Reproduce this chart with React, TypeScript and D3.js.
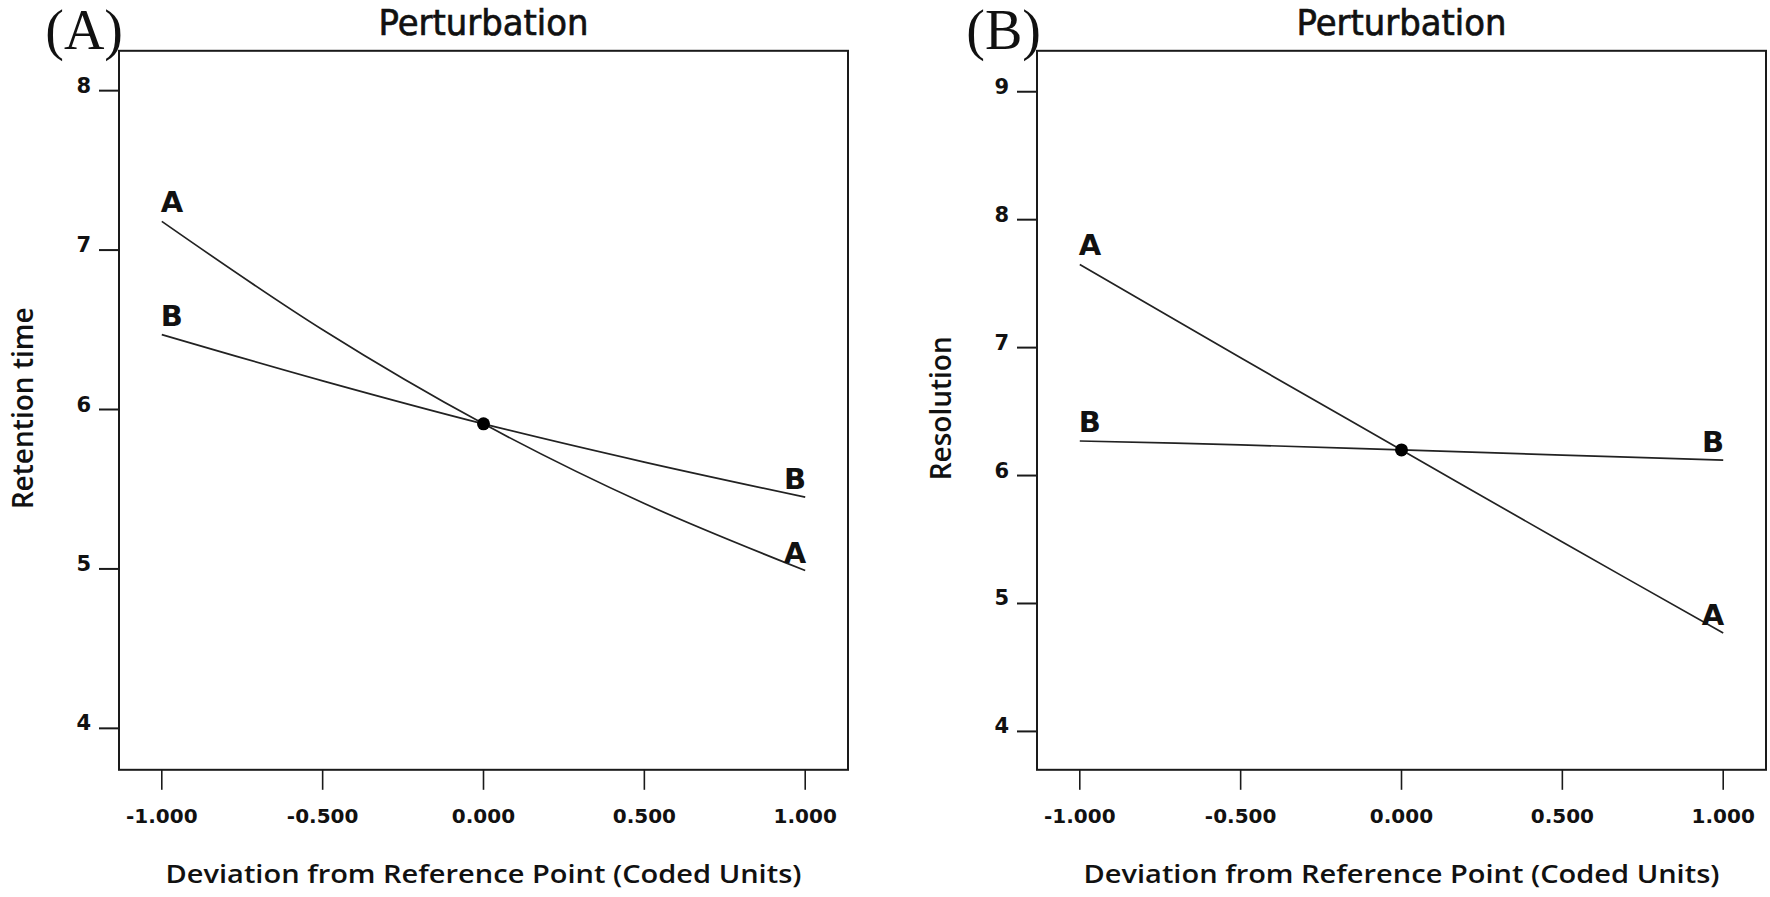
import React from "react";
import * as d3 from "d3";

// ---------- data ----------
const xCoded = [-1, -0.5, 0, 0.5, 1];
const xTicks = [-1, -0.5, 0, 0.5, 1];

// Panel (A): Retention time
const rtA = [7.18, 6.5, 5.91, 5.41, 4.99];
const rtB = [6.47, 6.18, 5.91, 5.67, 5.45];
const rtTicks = [4, 5, 6, 7, 8];
const rtDomain = [3.74, 8.25];

// Panel (B): Resolution
const resA = [7.65, 6.92, 6.2, 5.48, 4.77];
const resB = [6.27, 6.24, 6.2, 6.16, 6.12];
const resTicks = [4, 5, 6, 7, 8, 9];
const resDomain = [3.7, 9.32];

const W = 1770;
const H = 897;
const SANS = "'DejaVu Sans', Verdana, sans-serif";
const TITLE = "'Open Sans', 'DejaVu Sans', sans-serif";
const SERIF = "'Liberation Serif', 'Times New Roman', serif";

type PanelProps = {
  left: number;
  tag: string;
  yLabel: string;
  yLabelLen: number;
  seriesA: number[];
  seriesB: number[];
  yTicks: number[];
  yDomain: number[];
};

function Panel({ left, tag, yLabel, yLabelLen, seriesA, seriesB, yTicks, yDomain }: PanelProps) {
  const top = 50.8;
  const bottom = 769.8;
  const right = left + 729;
  const x = d3.scaleLinear().domain([-1.133, 1.133]).range([left, right]);
  const y = d3.scaleLinear().domain(yDomain).range([bottom, top]);
  const line = d3
    .line<number>()
    .x((_, i) => x(xCoded[i]))
    .y((d) => y(d))
    .curve(d3.curveCatmullRom.alpha(0.5));
  const cx = (left + right) / 2;
  const cy = (top + bottom) / 2;
  const fmt = (v: number) => d3.format(".3f")(v).replace("\u2212", "-");
  const series = [
    { name: "A", vals: seriesA },
    { name: "B", vals: seriesB },
  ];
  const last = xCoded.length - 1;
  const center = xCoded.indexOf(0);
  return (
    <g>
      {/* panel tag */}
      <text x={left + 4} y={49} textAnchor="end" fontFamily={SERIF} fontSize={56} fill="#111">
        {tag}
      </text>
      {/* title */}
      <text
        x={cx}
        y={35}
        textAnchor="middle"
        fontFamily={SANS}
        fontSize={35}
        textLength={210}
        lengthAdjust="spacingAndGlyphs"
        fill="#111"
        stroke="#111"
        strokeWidth={0.7}
      >
        Perturbation
      </text>
      {/* frame */}
      <rect x={left} y={top} width={right - left} height={bottom - top} fill="none" stroke="#1a1a1a" strokeWidth={2} />
      {/* y ticks */}
      {yTicks.map((t) => (
        <g key={"y" + t}>
          <line x1={left - 20} x2={left} y1={y(t)} y2={y(t)} stroke="#1a1a1a" strokeWidth={2} />
          <text x={left - 28} y={y(t) + 2} textAnchor="end" fontFamily={SANS} fontWeight="bold" fontSize={21} fill="#111">
            {t}
          </text>
        </g>
      ))}
      {/* x ticks */}
      {xTicks.map((t) => (
        <g key={"x" + t}>
          <line x1={x(t)} x2={x(t)} y1={bottom} y2={bottom + 20} stroke="#1a1a1a" strokeWidth={1.6} />
          <text x={x(t)} y={823} textAnchor="middle" fontFamily={SANS} fontWeight="bold" fontSize={20} fill="#111">
            {fmt(t)}
          </text>
        </g>
      ))}
      {/* axis titles */}
      <text x={cx} y={883} textAnchor="middle" fontFamily={TITLE} fontWeight={600} fontSize={25} textLength={636} lengthAdjust="spacingAndGlyphs" fill="#111">
        Deviation from Reference Point (Coded Units)
      </text>
      <text
        transform={`translate(${left - 86},${cy - 2}) rotate(-90)`}
        textAnchor="middle"
        fontFamily={TITLE}
        fontWeight={600}
        fontSize={29}
        textLength={yLabelLen}
        lengthAdjust="spacingAndGlyphs"
        fill="#111"
      >
        {yLabel}
      </text>
      {/* lines */}
      {series.map((s) => (
        <g key={s.name}>
          <path d={line(s.vals) || ""} fill="none" stroke="#222" strokeWidth={1.7} />
          <text x={x(xCoded[0]) - 1} y={y(s.vals[0]) - 9} textAnchor="start" fontFamily={SANS} fontWeight="bold" fontSize={29} fill="#111">
            {s.name}
          </text>
          <text x={x(xCoded[last]) + 1} y={y(s.vals[last]) - 8} textAnchor="end" fontFamily={SANS} fontWeight="bold" fontSize={29} fill="#111">
            {s.name}
          </text>
        </g>
      ))}
      {/* reference point */}
      <circle cx={x(xCoded[center])} cy={y(seriesA[center])} r={6.5} fill="#000" />
    </g>
  );
}

export default function App() {
  return (
    <svg width={W} height={H} style={{ position: "absolute", left: 0, top: 0, background: "#fff" }}>
      <rect x={0} y={0} width={W} height={H} fill="#fff" />
      <Panel left={119} tag="(A)" yLabel="Retention time" yLabelLen={202} seriesA={rtA} seriesB={rtB} yTicks={rtTicks} yDomain={rtDomain} />
      <Panel left={1037} tag="(B)" yLabel="Resolution" yLabelLen={144} seriesA={resA} seriesB={resB} yTicks={resTicks} yDomain={resDomain} />
    </svg>
  );
}
